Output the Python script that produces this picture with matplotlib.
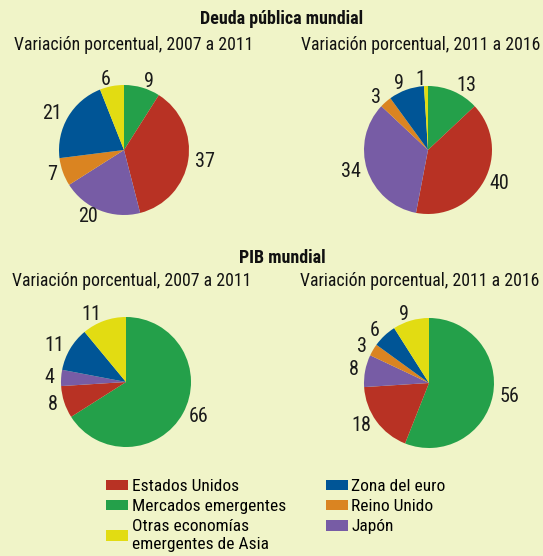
import matplotlib.pyplot as plt
from matplotlib.patches import Patch

plt.rcParams['font.family'] = ['Roboto Condensed', 'DejaVu Sans']

# categorias en el orden de los sectores (en sentido horario desde arriba)
categorias = ['Mercados emergentes', 'Estados Unidos', 'Japón', 'Reino Unido',
              'Zona del euro', 'Otras economías\nemergentes de Asia']
colores = ['#24a04a', '#b83224', '#775ca5', '#da8421', '#005596', '#e2dc12']

deuda_2007_2011 = [9, 37, 20, 7, 21, 6]
deuda_2011_2016 = [13, 40, 34, 3, 9, 1]
pib_2007_2011 = [66, 8, 4, 0, 11, 11]
pib_2011_2016 = [56, 18, 8, 3, 6, 9]

titulos = ['Deuda pública mundial', 'PIB mundial']
subtitulos = ['Variación porcentual, 2007 a 2011', 'Variación porcentual, 2011 a 2016']

# orden de la leyenda (columna izquierda, columna derecha)
orden_leyenda = ['Estados Unidos', 'Mercados emergentes', 'Otras economías\nemergentes de Asia',
                 'Zona del euro', 'Reino Unido', 'Japón']

fondo = '#f0f4c8'
W, H = 543, 556
fig = plt.figure(figsize=(W / 100, H / 100), dpi=100, facecolor=fondo)


def dibujar_pie(valores, cx, cy, r):
    ax = fig.add_axes([(cx - r) / W, (H - cy - r) / H, 2 * r / W, 2 * r / H])
    vals = [v for v in valores if v > 0]
    cols = [c for v, c in zip(valores, colores) if v > 0]
    ax.pie(vals, colors=cols, labels=[str(v) for v in vals], startangle=90,
           counterclock=False, labeldistance=1.1, radius=1,
           wedgeprops={'linewidth': 0},
           textprops={'fontsize': 14.5, 'color': '#1a1a1a'})
    ax.set_xlim(-1, 1)
    ax.set_ylim(-1, 1)
    ax.set_facecolor(fondo)
    ax.axis('off')


dibujar_pie(deuda_2007_2011, 124, 150, 65)
dibujar_pie(deuda_2011_2016, 428, 150, 64)
dibujar_pie(pib_2007_2011, 126, 382, 65)
dibujar_pie(pib_2011_2016, 429, 383, 65)

# titulos y subtitulos (posiciones de la linea base, en pixeles)
for titulo, y_t, y_s, x_izq, x_der in [(titulos[0], 24, 50, 14, 301), (titulos[1], 263, 286, 12, 300)]:
    fig.text(282 / W, 1 - y_t / H, titulo, ha='center', va='baseline',
             fontsize=13, fontweight='bold', color='#111111')
    fig.text(x_izq / W, 1 - y_s / H, subtitulos[0], ha='left', va='baseline',
             fontsize=12.8, color='#111111')
    fig.text(x_der / W, 1 - y_s / H, subtitulos[1], ha='left', va='baseline',
             fontsize=12.8, color='#111111')

# leyenda
handles = [Patch(facecolor=colores[categorias.index(c)], label=c) for c in orden_leyenda]
fig.legend(handles=handles, ncol=2, loc='upper left', bbox_to_anchor=(106 / W, 1 - 479 / H),
           frameon=False, fontsize=12.5, handlelength=1.27, handleheight=0.55,
           handletextpad=0.2, columnspacing=2.3, labelspacing=0.3, borderpad=0,
           borderaxespad=0)

fig.savefig('out.png', dpi=100, facecolor=fondo)
